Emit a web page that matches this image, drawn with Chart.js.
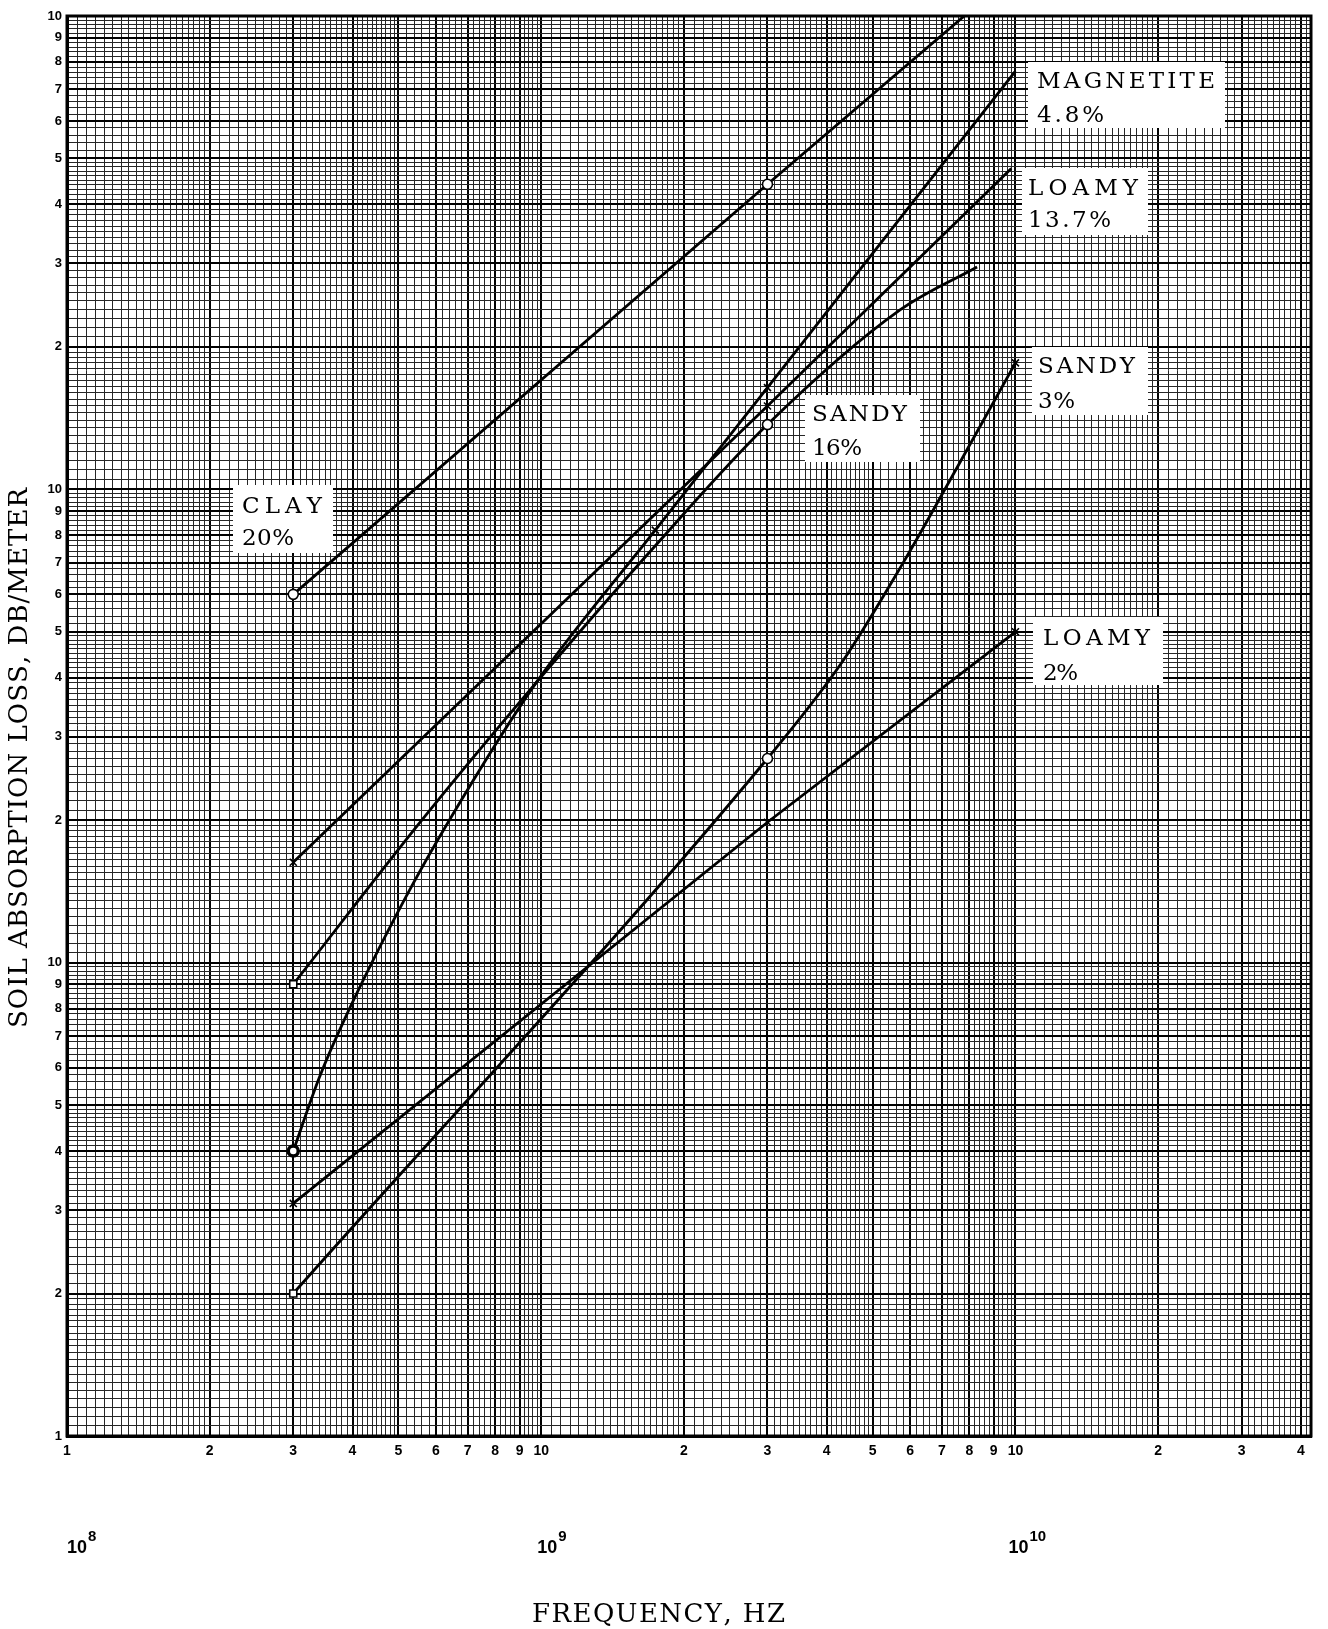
<!DOCTYPE html>
<html>
<head>
<meta charset="utf-8">
<style>
  html, body { margin: 0; padding: 0; background: #fff; }
</style>
<script src="https://cdn.jsdelivr.net/npm/chart.js@4.4.1/dist/chart.umd.min.js"></script>
</head>
<body>
<canvas id="soil-chart" width="1328" height="1629"></canvas>
<script>
// values (frequency in Hz, loss in dB/m)
const clayFreq = [3e8, 3e9, 7.8e9];
const clayLoss = [60, 441, 1000];
const magnetiteFreq = [3e8, 3.4e8, 3.85e8, 5.15e8, 6.4e8, 9.75e8, 1.74e9, 3e9, 1e10];
const magnetiteLoss = [4.0, 5.7, 7.6, 13.6, 20, 39, 82, 164, 765];
const loamy137Freq = [3e8, 3e9, 9.8e9];
const loamy137Loss = [16.3, 150, 476];
const sandy16Freq = [3e8, 5.6e8, 9.75e8, 1.74e9, 3e9, 5.7e9, 8.3e9];
const sandy16Loss = [9.0, 20, 39, 76, 137, 239, 295];
const sandy3Freq = [3e8, 3e9, 4.3e9, 5.8e9, 7.6e9, 1e10];
const sandy3Loss = [2.0, 27, 43, 70, 113, 185];
const loamy2Freq = [3e8, 3e9, 1e10];
const loamy2Loss = [3.1, 19.8, 50];

// measured-point symbols (null = curve only)
const clayMarks = ["circle", "circle", null];
const magnetiteMarks = ["dot", null, null, null, null, null, "crossRot", "crossRot", null];
const loamy137Marks = ["crossRot", "crossRot", null];
const sandy16Marks = ["rect", null, null, null, "circle", null, null];
const sandy3Marks = ["rect", "circle", null, null, null, "crossRot"];
const loamy2Marks = ["crossRot", "crossRot", "crossRot"];

const xMin = 1e8, xMax = 4.2e10;
const yMin = 1, yMax = 1000;

const labelBoxes = [
  { x: 1028, y: 62, w: 197, h: 66, lines: [["MAGNETITE", 1037, 88, 178], ["4.8%", 1037, 122, 67]] },
  { x: 1022, y: 168, w: 126, h: 67, lines: [["LOAMY", 1028, 195, 110], ["13.7%", 1028, 227, 83]] },
  { x: 1032, y: 347, w: 116, h: 68, lines: [["SANDY", 1038, 373, 97], ["3%", 1038, 408, 37]] },
  { x: 1033, y: 617, w: 130, h: 68, lines: [["LOAMY", 1043, 645, 107], ["2%", 1043, 680, 35]] },
  { x: 805, y: 395, w: 115, h: 67, lines: [["SANDY", 812, 421, 95], ["16%", 812, 455, 50]] },
  { x: 233, y: 485, w: 100, h: 68, lines: [["CLAY", 242, 513, 80], ["20%", 242, 545, 52]] },
];

function mantissa(v) {
  const e = Math.floor(Math.log10(v) + 1e-9);
  return v / Math.pow(10, e);
}
function isMajor(v) {
  const m = mantissa(v);
  return Math.abs(m - Math.round(m)) < 1e-6;
}

// graph paper rulings: fine steps in 1-2, medium in 2-5, coarse in 5-10
function paperLines(lo, hi) {
  const vals = [];
  for (let e = Math.floor(Math.log10(lo) + 1e-9); Math.pow(10, e) <= hi; e++) {
    const d = Math.pow(10, e);
    let m = 1;
    while (m < 10 - 1e-9) {
      const v = +(m * d).toPrecision(6);
      if (v >= lo && v <= hi) vals.push(v);
      const step = m < 2 - 1e-9 ? 0.05 : m < 5 - 1e-9 ? 0.1 : 0.2;
      m = +(m + step).toFixed(3);
    }
  }
  if (vals[vals.length - 1] < hi) vals.push(hi);
  return vals;
}

function spacedText(ctx, text, x, y, width) {
  const chars = [...text];
  const widths = chars.map((c) => ctx.measureText(c).width);
  const natural = widths.reduce((s, w) => s + w, 0);
  const gap = chars.length > 1 ? (width - natural) / (chars.length - 1) : 0;
  let cx = x;
  chars.forEach((c, i) => {
    ctx.fillText(c, cx, y);
    cx += widths[i] + gap;
  });
}

function makeSeries(freq, loss, marks, straight) {
  return {
    data: freq.map((f, i) => ({ x: f, y: loss[i] })),
    borderColor: "#000",
    borderWidth: 2.8,
    fill: false,
    tension: 0,
    cubicInterpolationMode: straight ? "default" : "monotone",
    pointStyle: marks.map((m) => (m === "dot" ? "circle" : m || "circle")),
    pointRadius: marks.map((m) => (m ? 5 : 0)),
    pointBorderWidth: marks.map((m) => (m === "dot" ? 3.5 : 1.6)),
    pointBackgroundColor: "#fff",
    pointBorderColor: "#000",
  };
}

const paperPlugin = {
  id: "paper",
  beforeDatasetsDraw(chart) {
    const ctx = chart.ctx;
    ctx.save();
    labelBoxes.forEach((b) => {
      ctx.fillStyle = "#fff";
      ctx.fillRect(b.x, b.y, b.w, b.h);
    });
    ctx.fillStyle = "#000";
    ctx.font = '23px "DejaVu Serif"';
    ctx.textBaseline = "alphabetic";
    labelBoxes.forEach((b) => b.lines.forEach((l) => spacedText(ctx, l[0], l[1], l[2], l[3])));
    ctx.restore();
  },
  afterDraw(chart) {
    const ctx = chart.ctx;
    const a = chart.chartArea;
    const xs = chart.scales.x;
    ctx.save();
    ctx.strokeStyle = "#000";
    ctx.lineWidth = 3;
    ctx.strokeRect(a.left, a.top, a.right - a.left, a.bottom - a.top);

    // decade multipliers under the axis
    ctx.fillStyle = "#000";
    ctx.textBaseline = "alphabetic";
    [[1e8, "8", 0], [1e9, "9", -4], [1e10, "10", -7]].forEach(([v, exp, dx]) => {
      const px = xs.getPixelForValue(v) + dx;
      ctx.font = 'bold 18px "Liberation Sans"';
      ctx.fillText("10", px, 1553);
      const w = ctx.measureText("10").width;
      ctx.font = 'bold 15px "Liberation Sans"';
      ctx.fillText(exp, px + w + 1, 1541);
    });

    ctx.font = '26px "DejaVu Serif"';
    spacedText(ctx, "FREQUENCY, HZ", 658 - 126, 1622, 253);

    ctx.translate(27, 758);
    ctx.rotate(-Math.PI / 2);
    spacedText(ctx, "SOIL ABSORPTION LOSS, DB/METER", -270, 0, 540);
    ctx.restore();
  },
};

const gridColor = (c) => (c.tick && isMajor(c.tick.value) ? "#000" : "#262626");
const gridWidth = (c) => (c.tick && isMajor(c.tick.value) ? 2 : 1);

new Chart(document.getElementById("soil-chart"), {
  type: "line",
  data: {
    datasets: [
      makeSeries(clayFreq, clayLoss, clayMarks, true),
      makeSeries(magnetiteFreq, magnetiteLoss, magnetiteMarks, false),
      makeSeries(loamy137Freq, loamy137Loss, loamy137Marks, true),
      makeSeries(sandy16Freq, sandy16Loss, sandy16Marks, false),
      makeSeries(sandy3Freq, sandy3Loss, sandy3Marks, false),
      makeSeries(loamy2Freq, loamy2Loss, loamy2Marks, true),
    ],
  },
  options: {
    responsive: false,
    animation: false,
    devicePixelRatio: 1,
    layout: { padding: { left: 0, top: 16, right: 17, bottom: 0 } },
    plugins: { legend: { display: false }, tooltip: { enabled: false } },
    scales: {
      x: {
        type: "logarithmic",
        min: xMin,
        max: xMax,
        afterBuildTicks: (s) => { s.ticks = paperLines(xMin, xMax).map((v) => ({ value: v })); },
        afterFit: (s) => { s.height = 193; },
        grid: { color: gridColor, lineWidth: gridWidth, drawTicks: false },
        border: { display: true, color: "#000", width: 3 },
        ticks: {
          autoSkip: false,
          maxRotation: 0,
          minRotation: 0,
          padding: 7,
          color: "#000",
          font: { family: "Liberation Sans", size: 14, weight: "bold" },
          callback: (v) => {
            if (!isMajor(v)) return "";
            const m = Math.round(mantissa(v));
            if (m === 1) return v === 1e8 ? "1" : "10";
            return String(m);
          },
        },
      },
      y: {
        type: "logarithmic",
        min: yMin,
        max: yMax,
        afterBuildTicks: (s) => { s.ticks = paperLines(yMin, yMax).map((v) => ({ value: v })); },
        afterFit: (s) => { s.width = 67; },
        grid: { color: gridColor, lineWidth: gridWidth, drawTicks: false },
        border: { display: true, color: "#000", width: 3 },
        ticks: {
          autoSkip: false,
          padding: 5,
          color: "#000",
          font: { family: "Liberation Sans", size: 13, weight: "bold" },
          callback: (v) => {
            if (!isMajor(v)) return "";
            const m = Math.round(mantissa(v));
            if (m === 1) return v === 1 ? "1" : "10";
            return String(m);
          },
        },
      },
    },
  },
  plugins: [paperPlugin],
});
</script>
</body>
</html>
